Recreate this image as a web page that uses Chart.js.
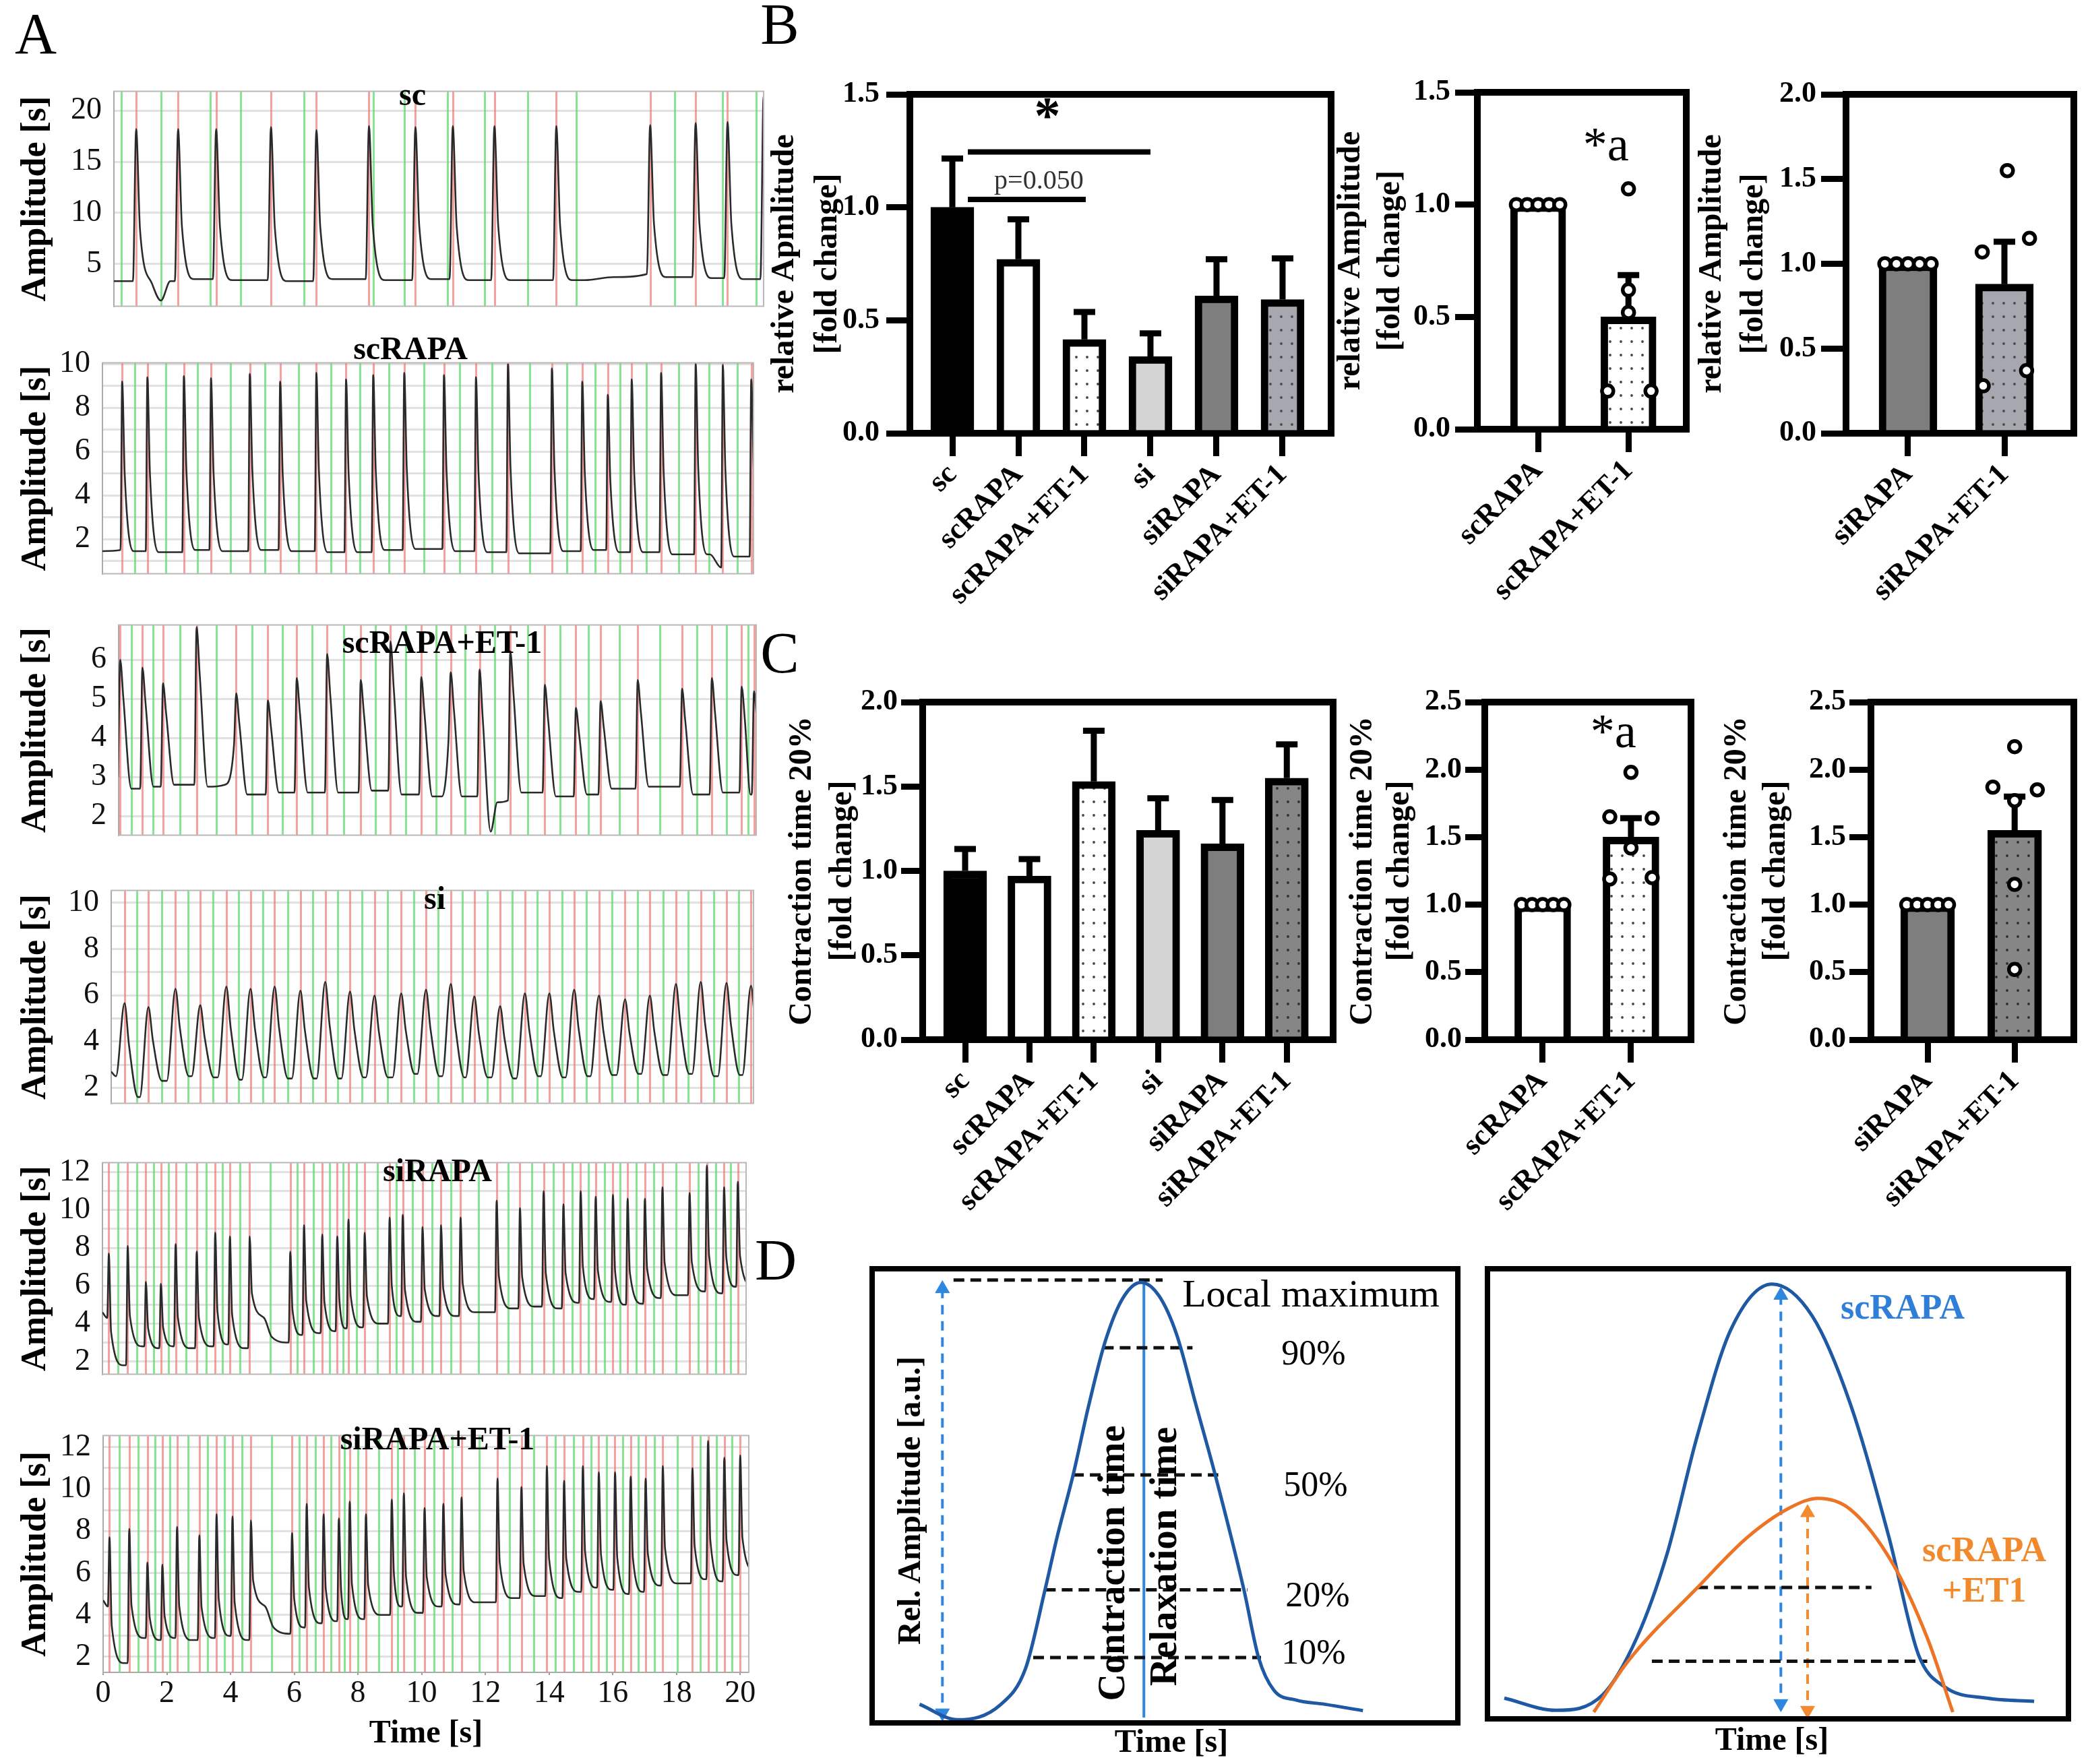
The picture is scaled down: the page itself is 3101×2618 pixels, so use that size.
<!DOCTYPE html>
<html><head><meta charset="utf-8"><title>Figure</title>
<script src="https://cdn.jsdelivr.net/npm/chart.js@4.4.1/dist/chart.umd.min.js"></script>
<style>
html,body{margin:0;padding:0;background:#fff;}
#page{position:relative;width:3101px;height:2618px;overflow:hidden;background:#fff;font-family:'Liberation Serif','DejaVu Serif',serif;}
#page canvas{position:absolute;}
.t{position:absolute;white-space:nowrap;line-height:1;color:#000;}
</style></head>
<body><div id="page"></div>
<script>
// ================= DATA =================
const timeTicks=[0,2,4,6,8,10,12,14,16,18,20];
const traceTitles=['sc','scRAPA','scRAPA+ET-1','si','siRAPA','siRAPA+ET-1'];

// A: sc trace
const sc_peakT=[0.69,1.99,3.17,4.87,6.28,7.91,9.35,10.51,11.80,13.72,16.63,18.04,19.03,20.15];
const sc_peakV=[18.2,18.2,18.2,18.4,18.1,18.5,18.4,18.5,18.5,18.5,18.6,18.8,18.9,21.5];
const sc_preV=[3.3,3.3,3.5,3.4,3.3,3.5,3.4,3.5,3.4,3.4,4.0,3.7,3.6,3.5];
const sc_extra=[[0,3.3],[1.46,1.4],[1.75,3.3],[14.6,3.4],[15.5,3.7]];
const sc_greenT=[0.23,1.46,2.99,3.94,5.90,8.05,9.01,10.34,11.49,12.84,14.33,17.39,18.88,19.92];
// A: scRAPA
const scR_peakT=[0.61,1.39,2.52,3.36,4.56,5.50,6.62,7.54,8.38,9.34,10.57,11.56,12.55,13.91,14.85,15.64,16.38,17.29,18.36,19.20,20.08];
const scR_peakV=[9.2,9.4,9.45,9.35,9.55,9.2,9.6,9.3,9.5,9.6,9.5,9.4,10.0,9.8,9.2,8.6,9.3,9.6,10.0,9.95,9.3];
const scR_preV=[1.5,1.45,1.4,1.5,1.45,1.5,1.45,1.4,1.4,1.5,1.55,1.45,1.4,1.35,1.45,1.5,1.4,1.4,1.3,0.7,1.2];
const scR_extra=[[0,1.45],[18.8,1.3]];
// A: scRAPA+ET-1
const scRE_peakT=[0.05,0.75,1.40,2.46,3.71,4.71,5.62,6.58,7.64,8.58,9.55,10.48,11.39,12.36,13.45,14.43,15.21,16.38,17.78,18.72,19.66,20.05];
const scRE_peakV=[6.0,5.8,5.4,6.84,5.14,4.96,5.53,6.15,5.48,6.47,5.56,5.68,5.75,6.22,5.36,4.77,4.94,5.48,5.26,5.53,5.31,5.19];
const scRE_preV=[3.0,2.7,2.75,2.8,3.8,2.55,2.6,2.6,2.6,2.65,2.55,3.95,2.5,2.4,2.6,2.5,2.55,2.7,2.75,2.55,2.6,2.55];
const scRE_extra=[[3.35,2.8],[10.2,2.5],[11.95,2.35]];
// A: si
const si_peakT=[0.42,1.17,2.02,2.80,3.62,4.38,5.14,5.95,6.73,7.51,8.28,9.12,9.90,10.68,11.42,12.23,13.01,13.78,14.56,15.34,16.16,16.94,17.76,18.54,19.35,20.12];
const si_peakV=[5.66,5.49,6.28,5.57,6.37,6.28,6.37,6.2,6.58,6.16,5.99,6.08,6.24,6.49,5.95,5.53,6.08,6.08,6.24,5.99,5.82,5.99,6.49,6.58,6.53,6.41];
const si_preV=[2.5,1.6,2.3,2.5,2.45,2.35,2.45,2.4,2.4,2.4,2.45,2.45,2.6,2.5,2.45,2.45,2.4,2.5,2.45,2.5,2.55,2.6,2.55,2.6,2.5,2.55];
const si_extra=[[0,2.7]];
// A: siRAPA
const siR_peakT=[0.20,0.79,1.36,1.83,2.29,2.95,3.53,3.99,4.61,5.88,6.31,6.88,7.35,7.70,8.21,8.99,9.40,10.02,10.60,11.21,12.34,13.07,13.81,14.43,14.97,15.44,15.98,16.44,16.98,17.53,18.38,18.92,19.46,19.89];
const siR_peakV=[7.7,8.1,6.2,6.1,8.2,7.8,8.8,8.6,8.6,7.8,9.2,8.7,8.6,9.5,8.8,9.6,9.75,9.1,9.2,9.6,10.5,10.1,11.0,10.3,11.0,10.7,10.8,10.6,10.6,11.2,10.9,12.35,11.2,11.5];
const siR_preV=[4.3,1.8,2.8,2.7,2.8,2.7,2.8,2.9,2.7,3.0,3.4,3.5,3.6,3.75,3.8,4.0,4.4,4.1,4.4,4.4,4.6,4.8,4.9,4.8,5.1,5.3,5.15,5.0,5.05,5.35,5.5,5.7,5.6,5.95];
const siR_extra=[[0,4.6],[5.3,3.3]];
// A: siRAPA+ET-1
const siRE_peakT=[0.20,0.82,1.39,1.86,2.32,3.02,3.56,4.06,4.64,5.93,6.39,6.92,7.40,7.74,8.25,9.06,9.44,10.09,10.68,11.25,12.38,13.13,13.93,14.47,15.06,15.56,16.07,16.56,17.03,17.57,18.50,18.99,19.50,20.0];
const siRE_peakV=[7.7,8.1,6.5,6.4,8.2,7.8,8.8,8.7,8.5,7.9,9.3,8.8,8.6,9.4,8.8,9.5,9.8,9.1,9.3,9.6,10.5,10.1,11.1,10.4,11.1,10.8,10.8,10.6,10.5,11.1,11.0,12.3,11.5,11.6];
const siRE_preV=[4.4,1.7,2.9,2.8,2.9,2.8,2.9,3.0,2.8,3.1,3.4,3.6,3.7,3.8,3.8,4.0,4.4,4.1,4.4,4.5,4.6,4.8,4.9,4.8,5.1,5.3,5.2,5.0,5.1,5.4,5.5,5.7,5.6,5.9];
const siRE_extra=[[0,4.7],[5.35,3.4]];

// B: relative amplitude
const groups6=['sc','scRAPA','scRAPA+ET-1','si','siRAPA','siRAPA+ET-1'];
const amp_mean=[1.0,0.77,0.415,0.34,0.608,0.592];
const amp_upper=[1.216,0.947,0.537,0.442,0.77,0.774];
const groupsSc=['scRAPA','scRAPA+ET-1'];
const groupsSi=['siRAPA','siRAPA+ET-1'];
const ampSc_mean=[1.0,0.5], ampSc_upper=[null,0.686];
const ampSc_ptsA=[1,1,1,1,1], ampSc_ptsB=[1.07,0.62,0.52,0.17,0.17];
const ampSi_mean=[1.0,0.88], ampSi_upper=[null,1.13];
const ampSi_ptsA=[1,1,1,1,1], ampSi_ptsB=[1.55,1.15,1.07,0.37,0.28];
// C: contraction time 20%
const ct_mean=[1.0,0.97,1.53,1.24,1.16,1.55];
const ct_upper=[1.13,1.07,1.83,1.43,1.42,1.75];
const ctSc_mean=[1.0,1.50], ctSc_upper=[null,1.64];
const ctSc_ptsA=[1,1,1,1,1], ctSc_ptsB=[1.98,1.65,1.64,1.42,1.19,1.20];
const ctSi_mean=[1.0,1.55], ctSi_upper=[null,1.80];
const ctSi_ptsA=[1,1,1,1,1], ctSi_ptsB=[2.17,1.87,1.85,1.77,1.15,0.52];
// point jitter (horizontal spread of dots)
const jit5=[-0.24,-0.12,0,0.12,0.24];
const ampSc_jitB=[0,0,0,-0.23,0.25];
const ampSi_jitB=[0.03,0.26,-0.23,0.23,-0.22];
const ctSc_jitB=[0,-0.24,0.24,0,-0.24,0.24];
const ctSi_jitB=[0,-0.25,0.26,0,0,0];

// D: schematic transients (time / amplitude in relative units 0-100)
const dL_curveT=[8.1,14.6,21.9,26.2,29.5,31.6,34.3,37.0,39.8,42.8,45.9,49.0,52.0,55.3,58.6,63.5,66.0,68.6,72.5,77.3,83.8];
const dL_curveA=[4.1,0.7,4.0,12.0,29.2,41.0,54.5,70.0,84.0,93.5,97.0,94.0,85.5,70.0,54.5,29.2,14.3,7.2,5.0,4.1,2.7];
const dL_levelA=[97.5,82.6,54.6,29.3,14.4];
const dL_levelFrom=[13.9,39.4,34.3,29.5,27.5];
const dL_levelTo=[49.6,54.7,59.1,64.1,66.4];
const dR_blueT=[2.9,11.8,19.8,25.7,30.9,36.1,41.9,49.0,55.9,62.4,69.1,74.2,78.7,86.0,94.1];
const dR_blueA=[4.6,1.9,5.3,18.0,36.6,62.8,86.5,96.6,89.5,70.2,40.4,14.2,7.1,4.6,3.9];
const dR_orT=[18.3,24.2,36.1,44.8,52.2,56.9,62.4,69.8,75.7,80.1];
const dR_orA=[1.5,12.8,29.1,40.4,47.0,49.0,46.6,34.4,18.0,1.5];
const dR_levelA=[29.2,12.8];
const dR_levelFrom=[36.1,28.3];
const dR_levelTo=[66.1,75.7];

// ================= HELPERS =================
const FONT="'Liberation Serif','DejaVu Serif',serif";
Chart.defaults.font.family=FONT;
Chart.defaults.color='#000';
const page=document.getElementById('page');

function mkCanvas(l,t,w,h){
  const c=document.createElement('canvas');
  c.width=w;c.height=h;c.style.left=l+'px';c.style.top=t+'px';c.style.width=w+'px';c.style.height=h+'px';
  page.appendChild(c);return c;
}
function txt(s,cx,cy,size,o){
  o=o||{};
  const d=document.createElement('div');d.className='t';d.textContent=s;
  d.style.left=cx+'px';d.style.top=cy+'px';d.style.fontSize=size+'px';
  if(o.bold)d.style.fontWeight='bold';
  if(o.color)d.style.color=o.color;
  d.style.transform='translate(-50%,-50%) rotate('+(o.rot||0)+'deg)'+(o.sx?' scaleX('+o.sx+')':'');
  page.appendChild(d);
}
function framePl(color,width,sides){
  return {id:'frame',afterDraw(chart){
    const {ctx,chartArea:a}=chart;ctx.save();ctx.strokeStyle=color;ctx.lineWidth=width;ctx.lineCap='square';ctx.beginPath();
    if(sides.includes('t')){ctx.moveTo(a.left,a.top);ctx.lineTo(a.right,a.top);}
    if(sides.includes('r')){ctx.moveTo(a.right,a.top);ctx.lineTo(a.right,a.bottom);}
    if(sides.includes('b')){ctx.moveTo(a.left,a.bottom);ctx.lineTo(a.right,a.bottom);}
    if(sides.includes('l')){ctx.moveTo(a.left,a.top);ctx.lineTo(a.left,a.bottom);}
    ctx.stroke();ctx.restore();
  }};
}
function marksPl(red,green){
  return {id:'marks',beforeDatasetsDraw(chart){
    const {ctx,chartArea:a,scales:{x}}=chart;
    ctx.save();ctx.beginPath();ctx.rect(a.left,a.top,a.right-a.left,a.bottom-a.top);ctx.clip();ctx.lineWidth=3;
    [[green,'rgba(95,220,110,0.75)'],[red,'rgba(242,120,120,0.7)']].forEach(([arr,c])=>{
      ctx.strokeStyle=c;ctx.beginPath();
      arr.forEach(t=>{const p=Math.round(x.getPixelForValue(t))+0.5;ctx.moveTo(p,a.top);ctx.lineTo(p,a.bottom);});
      ctx.stroke();
    });
    ctx.restore();
  }};
}
function errPl(upper,cap,lw){
  return {id:'err',afterDatasetDraw(chart,args){
    if(args.index!==0)return;
    const {ctx}=chart;const y=chart.scales.y;const meta=chart.getDatasetMeta(0);
    ctx.save();ctx.strokeStyle='#000';ctx.lineWidth=lw;
    meta.data.forEach((bar,i)=>{
      const u=upper[i];if(u==null)return;const py=y.getPixelForValue(u);
      ctx.beginPath();ctx.moveTo(bar.x,bar.y);ctx.lineTo(bar.x,py-lw/2);
      ctx.moveTo(bar.x-cap/2,py);ctx.lineTo(bar.x+cap/2,py);ctx.stroke();
    });
    ctx.restore();
  }};
}
function annPl(items){
  return {id:'ann',afterDraw(chart){
    const {ctx,scales:{x,y}}=chart;ctx.save();
    items.forEach(it=>{
      if(it.kind==='line'){
        ctx.strokeStyle='#000';ctx.lineWidth=it.lw;ctx.beginPath();
        ctx.moveTo(x.getPixelForValue(it.x1),y.getPixelForValue(it.y));
        ctx.lineTo(x.getPixelForValue(it.x2),y.getPixelForValue(it.y));ctx.stroke();
      }else{
        ctx.fillStyle=it.color||'#000';ctx.font=it.font;ctx.textAlign='center';ctx.textBaseline='middle';
        ctx.fillText(it.text,x.getPixelForValue(it.x),y.getPixelForValue(it.y));
      }
    });
    ctx.restore();
  }};
}
function dots(bg,dot){
  const c=document.createElement('canvas');c.width=16;c.height=20;const g=c.getContext('2d');
  g.fillStyle=bg;g.fillRect(0,0,16,20);g.fillStyle=dot;g.beginPath();g.arc(8,10,1.9,0,Math.PI*2);g.fill();
  return g.createPattern(c,'repeat');
}
function buildTrace(pT,pV,preV,endV,shape,extra,post){
  const [rise,fall,kT,kF]=shape;const pts=[];
  for(let i=0;i<pT.length;i++){
    const last=i===pT.length-1;
    const tgt=(post&&post[i]!=null)?post[i]:(last?endV:preV[i+1]);
    const gap=last?5:pT[i+1]-pT[i];
    const f=Math.min(fall,gap-rise-0.04);
    pts.push({x:pT[i]-rise,y:preV[i]});
    pts.push({x:pT[i],y:pV[i]});
    pts.push({x:pT[i]+Math.min(kT,f*0.45),y:tgt+(pV[i]-tgt)*kF});
    pts.push({x:pT[i]+f,y:tgt});
  }
  (extra||[]).forEach(p=>pts.push({x:p[0],y:p[1]}));
  return pts.sort((a,b)=>a.x-b.x);
}
const base={responsive:false,animation:false,devicePixelRatio:1,events:[]};
const noLeg={legend:{display:false},tooltip:{enabled:false}};

// ================= PANEL A: traces =================
function traceChart(o){
  const top=o.T-30;
  const h=o.bottom?(2618-top):(o.B-top+10);
  const cv=mkCanvas(0,top,1150,h);
  const pts=buildTrace(o.pT,o.pV,o.pre,o.end,o.shape,o.extra,o.post);
  const green=o.green||o.pT.slice(1).map((t,i)=>(t+o.pT[i])/2);
  const xScale={type:'linear',min:0,max:o.xMax,display:!!o.bottom,
    afterBuildTicks:s=>{s.ticks=timeTicks.map(v=>({value:v}));},
    ticks:{autoSkip:false,maxRotation:0,padding:0,font:{size:46},color:'#111'},
    grid:{drawOnChartArea:false,tickLength:4,color:'#999',lineWidth:2},
    border:{display:true,color:'#aaa',width:2},
    title:{display:true,text:'Time [s]',color:'#000',font:{size:48,weight:'bold'},padding:{top:0,bottom:16}}};
  if(o.bottom) xScale.afterFit=s=>{s.height=2618-o.B;};
  new Chart(cv,{type:'line',
    data:{datasets:[{data:pts,borderColor:'#2a2a2a',borderWidth:2.6,pointRadius:0,cubicInterpolationMode:'monotone',tension:0.4}]},
    options:Object.assign({},base,{
      layout:{padding:{left:0,top:30,right:1150-o.R,bottom:o.bottom?0:10}},
      plugins:noLeg,
      scales:{
        x:xScale,
        y:{min:o.yMin,max:o.yMax,
          afterFit:s=>{s.width=o.L;},
          afterBuildTicks:s=>{s.ticks=o.grid.map(v=>({value:v}));},
          ticks:{autoSkip:false,padding:18,font:{size:46},color:'#111',callback:v=>o.labels.includes(v)?String(v):''},
          grid:{drawTicks:false,color:'#e1e1e1',lineWidth:3},
          border:{display:true,color:'#aaa',width:2},
          title:{display:true,text:'Amplitude [s]',color:'#000',font:{size:52,weight:'bold'},padding:{top:22,bottom:0}}}
      }}),
    plugins:[marksPl(o.pT,green),framePl('#b8b8b8',2,o.bottom?'tr':'trb')]});
  txt(o.title,o.tx,o.ty,48,{bold:true});
}
const rng=(a,b)=>{const r=[];for(let v=a;v<=b;v++)r.push(v);return r;};
traceChart({title:traceTitles[0],pT:sc_peakT,pV:sc_peakV,pre:sc_preV,end:3.5,shape:[0.1,0.5,0.12,0.35],extra:sc_extra,post:{0:3.0,9:3.4},green:sc_greenT,
  L:169,R:1133,T:120,B:490,yMin:0.85,yMax:21.9,grid:[5,10,15,20],labels:[5,10,15,20],xMax:20.15,tx:612,ty:140});
traceChart({title:traceTitles[1],pT:scR_peakT,pV:scR_peakV,pre:scR_preV,end:1.5,shape:[0.05,0.35,0.08,0.45],extra:scR_extra,post:{18:1.3},
  L:152,R:1118,T:523,B:887,yMin:0.42,yMax:10.05,grid:rng(1,10),labels:[2,4,6,8,10],xMax:20.15,tx:609,ty:517});
traceChart({title:traceTitles[2],pT:scRE_peakT,pV:scRE_peakV,pre:scRE_preV,end:2.6,shape:[0.07,0.35,0.1,0.7],extra:scRE_extra,post:{3:2.75,10:2.5,12:1.6},
  L:176,R:1122,T:912,B:1275,yMin:1.51,yMax:6.89,grid:[2,3,4,5,6],labels:[2,3,4,5,6],xMax:20.12,tx:656,ty:953});
traceChart({title:traceTitles[3],pT:si_peakT,pV:si_peakV,pre:si_preV,end:2.55,shape:[0.27,0.42,0.14,0.55],extra:si_extra,
  L:165,R:1118,T:1306,B:1673,yMin:1.33,yMax:10.53,grid:rng(2,10),labels:[2,4,6,8,10],xMax:20.2,tx:645,ty:1333});
traceChart({title:traceTitles[4],pT:siR_peakT,pV:siR_peakV,pre:siR_preV,end:5.9,shape:[0.05,0.45,0.07,0.3],extra:siR_extra,post:{8:4.3},
  L:152,R:1107,T:1710,B:2075,yMin:1.33,yMax:12.5,grid:rng(2,12),labels:[2,4,6,8,10,12],xMax:20.15,tx:649,ty:1737});
traceChart({title:traceTitles[5],pT:siRE_peakT,pV:siRE_peakV,pre:siRE_preV,end:6.0,shape:[0.05,0.45,0.07,0.3],extra:siRE_extra,post:{8:4.4},bottom:true,
  L:153,R:1111,T:2115,B:2482,yMin:1.26,yMax:12.55,grid:rng(2,12),labels:[2,4,6,8,10,12],xMax:20.27,tx:649,ty:2135});

// ================= PANELS B & C: bars =================
function barChart(o){
  const cv=mkCanvas(o.left,o.top,o.w,o.h);
  const yW=o.area.L-o.left, xH=o.top+o.h-o.area.B;
  const ds=[{type:'bar',data:o.mean.map((m,i)=>({x:i+1,y:m})),backgroundColor:o.fills,borderColor:'#000',borderWidth:11,barThickness:o.bw,borderSkipped:'start',order:2}];
  if(o.points)ds.push({type:'scatter',data:o.points,pointRadius:8.5,pointBorderWidth:5.5,pointBackgroundColor:'#fff',pointBorderColor:'#000',order:1});
  const ty=[];for(let k=0;k*0.5<=o.yMax+1e-9;k++)ty.push(k*0.5);
  new Chart(cv,{type:'bar',data:{datasets:ds},options:Object.assign({},base,{
    layout:{padding:{left:0,top:o.area.T-o.top,right:o.left+o.w-o.area.R,bottom:0}},
    plugins:noLeg,
    scales:{
      x:{type:'linear',offset:false,min:o.xMin,max:o.xMax,
        afterFit:s=>{s.height=xH;},
        afterBuildTicks:s=>{s.ticks=o.cats.map((c,i)=>({value:i+1}));},
        ticks:{autoSkip:false,minRotation:45,maxRotation:45,padding:2,font:{size:44,weight:'bold'},color:'#000',callback:v=>o.cats[Math.round(v)-1]},
        grid:{display:true,offset:false,drawOnChartArea:false,drawTicks:true,tickLength:34,lineWidth:9,color:'#000'},
        border:{display:true,width:10,color:'#000'}},
      y:{min:0,max:o.yMax,
        afterFit:s=>{s.width=yW;},
        afterBuildTicks:s=>{s.ticks=ty.map(v=>({value:v}));},
        ticks:{autoSkip:false,padding:o.tickPad,font:{size:44,weight:'bold'},color:'#000',callback:v=>Number(v).toFixed(1)},
        grid:{display:true,drawOnChartArea:false,drawTicks:true,tickLength:o.tickLen,lineWidth:9,color:'#000'},
        border:{display:true,width:10,color:'#000'},
        title:{display:true,text:o.title,color:'#000',font:{size:48,weight:'bold',lineHeight:o.tGap/48},padding:{top:o.tLine1-o.left-o.tGap/2,bottom:0}}}
    }}),
    plugins:[errPl(o.upper,32,9),framePl('#000',10,'tr'),annPl(o.ann||[])]});
}
const pts=(vals,jit,c)=>vals.map((v,i)=>({x:c+jit[i],y:v}));
const titleAmpB1=['relative Apmlitude','[fold change]'];
const titleAmp=['relative Amplitude','[fold change]'];
const titleCt=['Contraction time 20%','[fold change]'];

barChart({left:1125,top:100,w:870,h:840,area:{L:1350,R:1975,T:140,B:643},cats:groups6,mean:amp_mean,upper:amp_upper,
  fills:['#000','#fff',dots('#fff','#444'),'#d4d4d4','#7e7e7e',dots('#a7a7af','#4a4a4a')],bw:64,xMin:0.357,xMax:6.735,yMax:1.5,
  title:titleAmpB1,tLine1:1165,tGap:64,tickLen:35,tickPad:10,
  ann:[{kind:'line',x1:1.235,x2:4.0,y:1.245,lw:8},{kind:'line',x1:1.235,x2:3.02,y:1.035,lw:8},
       {kind:'text',text:'*',x:2.44,y:1.39,font:'bold 78px '+FONT},{kind:'text',text:'p=0.050',x:2.31,y:1.115,font:'40px '+FONT,color:'#333'}]});
barChart({left:1965,top:97,w:555,h:843,area:{L:2192,R:2502,T:137,B:637},cats:groupsSc,mean:ampSc_mean,upper:ampSc_upper,
  fills:['#fff',dots('#fff','#444')],bw:82,xMin:0.328,xMax:2.64,yMax:1.5,
  points:pts(ampSc_ptsA,jit5,1).concat(pts(ampSc_ptsB,ampSc_jitB,2)),
  title:titleAmp,tLine1:2005,tGap:59,tickLen:33,tickPad:7,
  ann:[{kind:'text',text:'*a',x:1.75,y:1.254,font:'72px '+FONT}]});
barChart({left:2501,top:100,w:594,h:840,area:{L:2739,R:3077,T:140,B:643},cats:groupsSi,mean:ampSi_mean,upper:ampSi_upper,
  fills:['#7e7e7e',dots('#a7a7af','#4a4a4a')],bw:86,xMin:0.357,xMax:2.72,yMax:2.0,
  points:pts(ampSi_ptsA,jit5,1).concat(pts(ampSi_ptsB,ampSi_jitB,2)),
  title:titleAmp,tLine1:2541,tGap:62,tickLen:37,tickPad:7});
barChart({left:1151,top:1000,w:844,h:840,area:{L:1369,R:1978,T:1042,B:1543},cats:groups6,mean:ct_mean,upper:ct_upper,
  fills:['#000','#fff',dots('#fff','#444'),'#d4d4d4','#7e7e7e',dots('#868686','#2e2e2e')],bw:64,xMin:0.34,xMax:6.72,yMax:2.0,
  title:titleCt,tLine1:1191,tGap:60,tickLen:32,tickPad:5});
barChart({left:1983,top:1000,w:542,h:840,area:{L:2203,R:2509,T:1042,B:1543},cats:groupsSc,mean:ctSc_mean,upper:ctSc_upper,
  fills:['#fff',dots('#fff','#444')],bw:83,xMin:0.344,xMax:2.68,yMax:2.5,
  points:pts(ctSc_ptsA,jit5,1).concat(pts(ctSc_ptsB,ctSc_jitB,2)),
  title:titleCt,tLine1:2023,tGap:55,tickLen:29,tickPad:5,
  ann:[{kind:'text',text:'*a',x:1.80,y:2.26,font:'72px '+FONT}]});
barChart({left:2538,top:1000,w:557,h:840,area:{L:2776,R:3077,T:1042,B:1543},cats:groupsSi,mean:ctSi_mean,upper:ctSi_upper,
  fills:['#7e7e7e',dots('#868686','#2e2e2e')],bw:80,xMin:0.349,xMax:2.68,yMax:2.5,
  points:pts(ctSi_ptsA,jit5,1).concat(pts(ctSi_ptsB,ctSi_jitB,2)),
  title:titleCt,tLine1:2578,tGap:58,tickLen:32,tickPad:5});

// ================= PANEL D: schematics =================
const curve=(xs,ys,c)=>({data:xs.map((x,i)=>({x,y:ys[i]})),borderColor:c,borderWidth:5,pointRadius:0,cubicInterpolationMode:'monotone',tension:0.4});
const seg=(x1,x2,y1,y2,c,w,dash)=>({data:[{x:x1,y:y1},{x:x2,y:y2}],borderColor:c,borderWidth:w,borderDash:dash||[],pointRadius:0,tension:0});
const arrow=(x,y1,y2,c)=>({data:[{x,y:y1},{x,y:y2}],borderColor:c,borderWidth:4,borderDash:[14,10],tension:0,pointStyle:'triangle',pointRadius:12,pointBackgroundColor:c,pointBorderColor:c,pointBorderWidth:1,pointRotation:[0,180]});
function dChart(o){
  const cv=mkCanvas(o.left,o.top,o.w,o.h);
  new Chart(cv,{type:'line',data:{datasets:o.ds},options:Object.assign({},base,{
    layout:{padding:{left:o.area.L-o.left,top:o.area.T-o.top,right:o.left+o.w-o.area.R,bottom:o.top+o.h-o.area.B}},
    plugins:noLeg,
    scales:{x:{type:'linear',min:0,max:100,display:false},y:{min:0,max:100,display:false}}}),
    plugins:[framePl('#000',8,'tlrb')]});
}
const dashK=[16,9];
dChart({left:1281,top:1870,w:895,h:700,area:{L:1291,R:2166,T:1880,B:2559},
  ds:[curve(dL_curveT,dL_curveA,'#1f58a3')]
    .concat(dL_levelA.map((a,i)=>seg(dL_levelFrom[i],dL_levelTo[i],a,a,'#111',5,dashK)))
    .concat([seg(46.4,46.4,1.2,97.0,'#2e86de',4),arrow(12.0,95.6,2.2,'#2f86de')])});
dChart({left:2194,top:1870,w:888,h:694,area:{L:2204,R:3072,T:1880,B:2554},
  ds:[curve(dR_orT,dR_orA,'#ec7426'),curve(dR_blueT,dR_blueA,'#1f58a3')]
    .concat(dR_levelA.map((a,i)=>seg(dR_levelFrom[i],dR_levelTo[i],a,a,'#111',5,dashK)))
    .concat([arrow(50.5,94.1,3.4,'#2f86de'),arrow(55.1,45.8,1.9,'#f28a30')])});

// ================= TEXT LABELS =================
txt('A',53,50,86);
txt('B',1157,36,86);
txt('C',1157,969,86);
txt('D',1151,1870,86);
txt('Local maximum',1945,1920,58);
txt('90%',1949,2008,52);
txt('50%',1952,2203,52);
txt('20%',1955,2367,52);
txt('10%',1949,2452,52);
txt('Rel. Amplitude [a.u.]',1349,2227,48,{bold:true,rot:-90});
txt('Contraction time',1649,2320,56,{bold:true,rot:-90});
txt('Relaxation time',1725,2310,57,{bold:true,rot:-90});
txt('Time [s]',1738,2584,48,{bold:true});
txt('Time [s]',2629,2581,48,{bold:true});
txt('scRAPA',2823,1940,52,{bold:true,color:'#2f7fd8'});
txt('scRAPA',2944,2300,52,{bold:true,color:'#f08a2c'});
txt('+ET1',2944,2360,52,{bold:true,color:'#f08a2c'});
</script>
</body></html>
